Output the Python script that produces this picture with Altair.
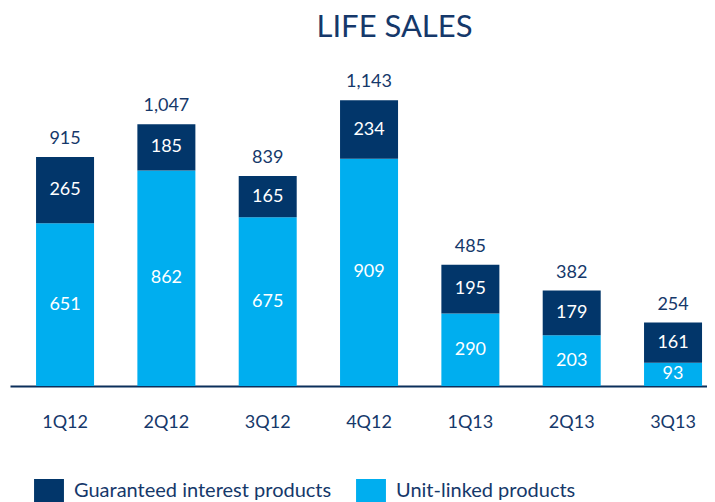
import altair as alt
import pandas as pd

quarters = ['1Q12', '2Q12', '3Q12', '4Q12', '1Q13', '2Q13', '3Q13']
guaranteed = [265, 185, 165, 234, 195, 179, 161]
unit_linked = [651, 862, 675, 909, 290, 203, 93]
totals = [915, 1047, 839, 1143, 485, 382, 254]
series = ['Guaranteed interest products', 'Unit-linked products']
colors = ['#02366A', '#00AEEF']

NAVY_TXT = '#15386A'
FONT = 'Lato'

rows = []
for q, g, u in zip(quarters, guaranteed, unit_linked):
    rows.append({'quarter': q, 'type': series[1], 'value': u, 'ord': 0})
    rows.append({'quarter': q, 'type': series[0], 'value': g, 'ord': 1})
df = pd.DataFrame(rows)
tot = pd.DataFrame({'quarter': quarters, 'total': totals})

xenc = alt.X('quarter:N', sort=quarters,
             scale=alt.Scale(paddingInner=0.4276, paddingOuter=0.153, align=0.84),
             axis=alt.Axis(title=None, labelAngle=0, ticks=False, domainColor='#0B2F5B',
                           domainWidth=2, labelPadding=27, labelFontSize=18,
                           labelColor=NAVY_TXT, labelFont=FONT))
yscale = alt.Scale(domain=[0, 1200], nice=False)

base = alt.Chart(df).transform_stack(
    stack='value', groupby=['quarter'], as_=['start', 'end'],
    sort=[alt.SortField('ord', order='ascending')]
).transform_calculate(mid='(datum.start + datum.end) / 2')

bars = base.mark_bar().encode(
    x=xenc,
    y=alt.Y('end:Q', scale=yscale, axis=None),
    y2='start:Q',
    color=alt.Color('type:N', scale=alt.Scale(domain=series, range=colors),
                    legend=alt.Legend(title=None, orient='none', legendX=27.5, legendY=393,
                                      direction='horizontal', columns=2, padding=0,
                                      symbolType='M-1.3,-1H1.3V1H-1.3Z',
                                      symbolSize=529,
                                      symbolStrokeWidth=0, labelFontSize=20,
                                      labelFont=FONT, labelColor=NAVY_TXT,
                                      labelLimit=400, labelOffset=13.5,
                                      columnPadding=24)),
)

seg_labels = base.mark_text(color='white', fontSize=18, font=FONT, baseline='middle').encode(
    x=xenc,
    y=alt.Y('mid:Q', scale=yscale, axis=None),
    text=alt.Text('value:Q', format=','),
)

tot_labels = alt.Chart(tot).mark_text(color=NAVY_TXT, fontSize=18, font=FONT,
                                      baseline='middle', dy=-18).encode(
    x=xenc,
    y=alt.Y('total:Q', scale=yscale, axis=None),
    text=alt.Text('total:Q', format=','),
)

chart = alt.layer(bars, seg_labels, tot_labels).properties(
    width=697, height=300,
    padding={'left': 2, 'top': 4, 'right': 0, 'bottom': 0},
    title=alt.TitleParams('LIFE SALES', fontSize=31, font=FONT, fontWeight='normal',
                          color=NAVY_TXT, anchor='middle', dx=36, offset=29),
).configure_view(stroke=None)

chart.save("out.html", embed_options={"renderer": "svg", "actions": False})
